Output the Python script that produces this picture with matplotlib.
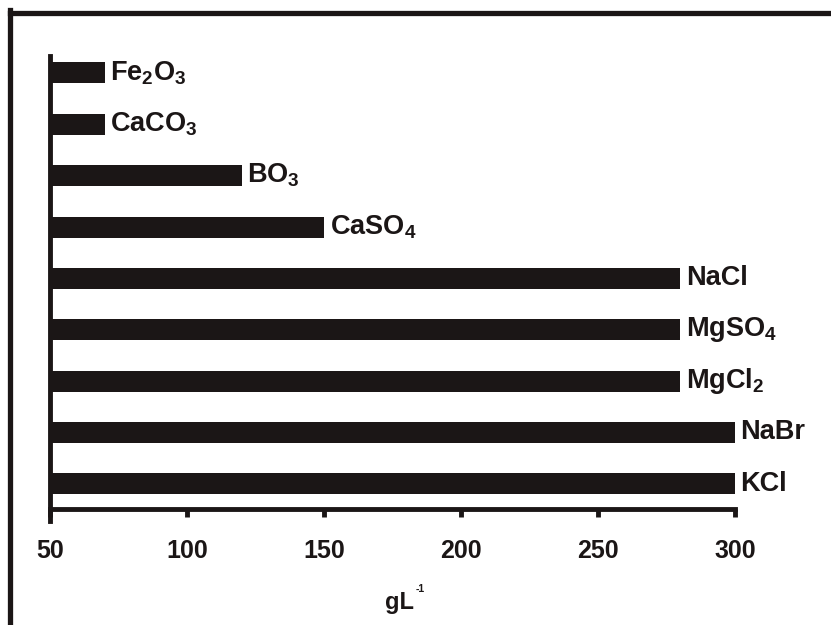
import matplotlib
matplotlib.use('Agg')
import matplotlib.pyplot as plt
from matplotlib.lines import Line2D

plt.rcParams['font.family'] = ['Liberation Sans', 'DejaVu Sans']
plt.rcParams['font.weight'] = 'bold'
plt.rcParams['axes.labelweight'] = 'bold'
plt.rcParams['mathtext.fontset'] = 'custom'
plt.rcParams['mathtext.rm'] = 'Liberation Sans:bold'
plt.rcParams['mathtext.bf'] = 'Liberation Sans:bold'
plt.rcParams['mathtext.default'] = 'bf'

# salts, bottom to top
salts = ['KCl', 'NaBr', 'MgCl$_2$', 'MgSO$_4$', 'NaCl',
         'CaSO$_4$', 'BO$_3$', 'CaCO$_3$', 'Fe$_2$O$_3$']
conc = [300, 300, 280, 280, 280, 150, 120, 70, 70]  # gL-1
xticks = [50, 100, 150, 200, 250, 300]

ink = '#1b1616'

fig = plt.figure(figsize=(8.31, 6.25), dpi=100)
ax = fig.add_axes([0.0602, 0.1856, 0.8243, 0.7248])

pos = range(len(salts))
ax.barh(pos, [c - 50 for c in conc], left=50, height=0.41, color=ink)
for y, (name, c) in enumerate(zip(salts, conc)):
    ax.annotate(name, (c, y), xytext=(4, 0), textcoords='offset points',
                va='center', ha='left', fontsize=19.5, color=ink)

ax.set_xlim(50, 300)
ax.set_ylim(-0.49, 8.33)
ax.set_xticks(xticks)
ax.set_xticklabels([str(t) for t in xticks])
ax.set_yticks([])
ax.tick_params(axis='x', direction='out', length=6, width=3.5, pad=15.5,
               labelsize=18, colors=ink)
for s in ['top', 'right']:
    ax.spines[s].set_visible(False)
for s in ['left', 'bottom']:
    ax.spines[s].set_linewidth(3.5)
    ax.spines[s].set_color(ink)
ax.spines['left'].set_bounds(-0.72, 8.33)

# axis title: "gL" with a small superscript -1
ax.set_xlabel('gL', fontsize=17, color=ink)
ax.xaxis.set_label_coords(0.5095, -0.18)
ax.annotate('-1', xy=(1, 1), xycoords=ax.xaxis.label, xytext=(1.5, 5),
            textcoords='offset points', fontsize=7.5, color=ink,
            ha='left', va='top')

# outer frame, top and left only
fig.add_artist(Line2D([10 / 831, 1], [1 - 12.5 / 625] * 2,
                      transform=fig.transFigure, color=ink, lw=3.8))
fig.add_artist(Line2D([10 / 831] * 2, [0, 1 - 10 / 625],
                      transform=fig.transFigure, color=ink, lw=3.8))

fig.savefig('out.png', dpi=100)
